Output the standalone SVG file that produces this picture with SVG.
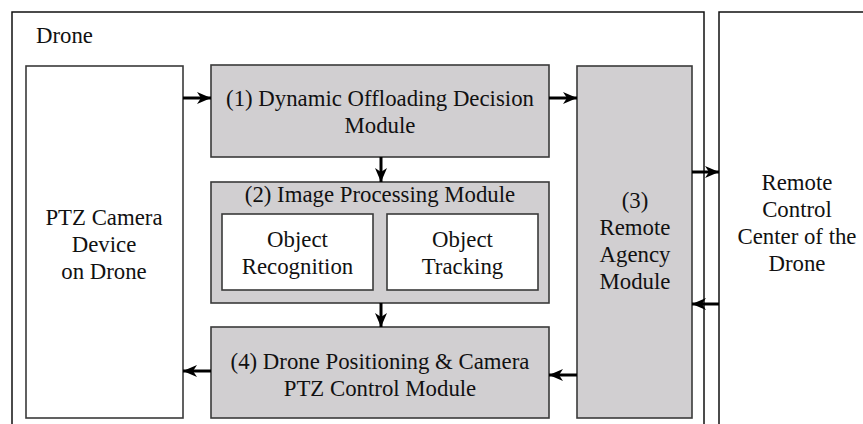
<svg xmlns="http://www.w3.org/2000/svg" width="863" height="424" viewBox="0 0 863 424">
<defs>
<style>
text{font-family:"Liberation Serif","Times New Roman",serif;font-size:22.8px;fill:#111;text-anchor:middle}
.outer{fill:#fff;stroke:#111;stroke-width:1.5}
.white{fill:#fff;stroke:#3a3a3a;stroke-width:1.6}
.gray{fill:#d1cfd1;stroke:#3a3a3a;stroke-width:1.6}
.conn{stroke:#000;stroke-width:3;fill:none;marker-end:url(#ah)}
</style>
<marker id="ah" viewBox="0 0 14 14" markerWidth="14" markerHeight="14" refX="14" refY="7" orient="auto" markerUnits="userSpaceOnUse">
<path d="M0,1 L14,7 L0,13 L4,7 Z" fill="#000"/>
</marker>
</defs>
<g id="drone">
<rect class="outer" x="12" y="12" width="692" height="430"/>
<text x="36" y="43" style="text-anchor:start">Drone</text>
</g>
<g id="remote-center">
<rect class="outer" x="719" y="12" width="160" height="430"/>
<text x="797" y="190">Remote</text>
<text x="797" y="217">Control</text>
<text x="797" y="244">Center of the</text>
<text x="797" y="271">Drone</text>
</g>
<g id="ptz-camera">
<rect class="white" x="26" y="66" width="157" height="352"/>
<text x="104" y="225">PTZ Camera</text>
<text x="104" y="252">Device</text>
<text x="104" y="279">on Drone</text>
</g>
<g id="module1">
<rect class="gray" x="211" y="65" width="338" height="92"/>
<text x="380" y="106">(1) Dynamic Offloading Decision</text>
<text x="380" y="133">Module</text>
</g>
<g id="module2">
<rect class="gray" x="211" y="182" width="338" height="121"/>
<text x="380" y="202">(2) Image Processing Module</text>
</g>
<g id="object-recognition">
<rect class="white" x="222" y="214" width="151" height="76"/>
<text x="297.5" y="247">Object</text>
<text x="297.5" y="274">Recognition</text>
</g>
<g id="object-tracking">
<rect class="white" x="387" y="214" width="151" height="76"/>
<text x="462.5" y="247">Object</text>
<text x="462.5" y="274">Tracking</text>
</g>
<g id="module3">
<rect class="gray" x="577" y="66" width="115" height="352"/>
<text x="635" y="208">(3)</text>
<text x="635" y="235">Remote</text>
<text x="635" y="262">Agency</text>
<text x="635" y="289">Module</text>
</g>
<g id="module4">
<rect class="gray" x="211" y="327" width="338" height="91"/>
<text x="380" y="369">(4) Drone Positioning &amp; Camera</text>
<text x="380" y="396">PTZ Control Module</text>
</g>
<g id="connectors">
<line class="conn" x1="183" y1="98" x2="211" y2="98"/>
<line class="conn" x1="549" y1="98" x2="577" y2="98"/>
<line class="conn" x1="381" y1="157" x2="381" y2="182"/>
<line class="conn" x1="381" y1="303" x2="381" y2="327"/>
<line class="conn" x1="692" y1="172" x2="719" y2="172"/>
<line class="conn" x1="719" y1="304" x2="692" y2="304"/>
<line class="conn" x1="577" y1="375" x2="549" y2="375"/>
<line class="conn" x1="211" y1="371" x2="183" y2="371"/>
</g>
</svg>
